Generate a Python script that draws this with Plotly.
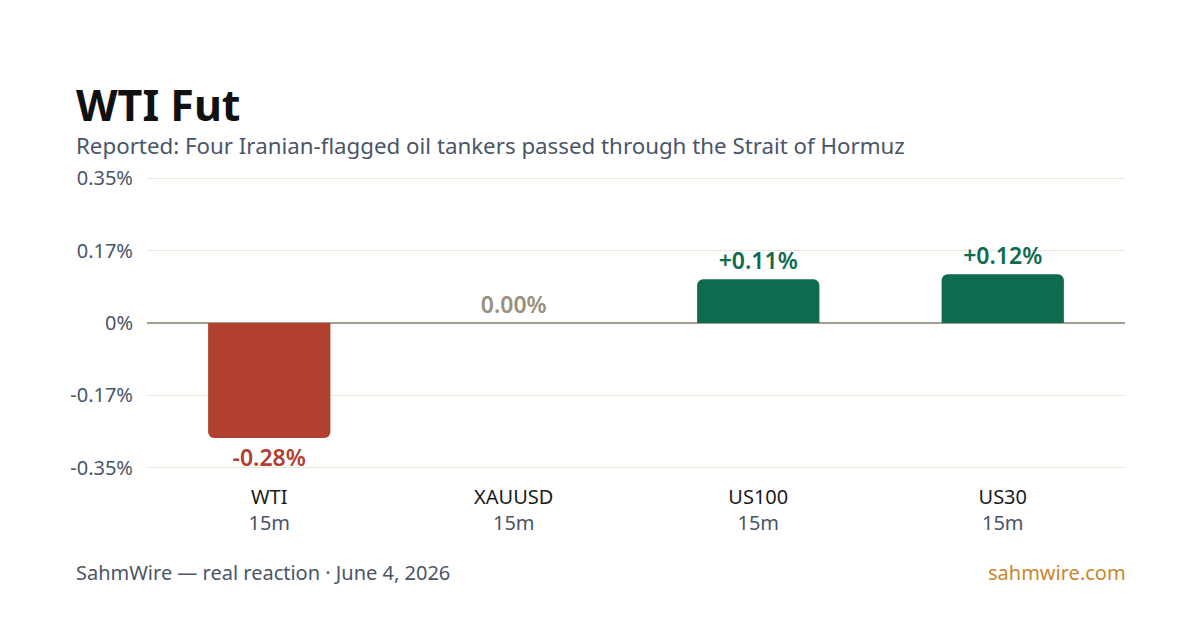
import plotly.graph_objects as go

categories = ["WTI", "XAUUSD", "US100", "US30"]
windows = ["15m", "15m", "15m", "15m"]
values = [-0.278, 0.0, 0.106, 0.118]
tick_vals = [-0.35, -0.175, 0, 0.175, 0.35]
tick_text = ["-0.35%", "-0.17%", "0%", "0.17%", "0.35%"]

RED = "#b1402f"
GREEN = "#0f6b50"
NEUTRAL = "#9a907c"
FONT = "Noto Sans"

colors = [RED if v < 0 else (GREEN if v > 0 else NEUTRAL) for v in values]
labels = [("+" if v > 0 else "") + f"{v:.2f}%" for v in values]

fig = go.Figure()
fig.add_trace(go.Bar(
    x=categories, y=values, width=0.5,
    marker=dict(color=colors, line=dict(width=0)),
    text=labels, textposition="outside", cliponaxis=False,
    textfont=dict(family=FONT, size=23, color=colors, weight=600),
))

ticks_x = [f"<span style='color:#1a1a1a'>{c}</span><br><span style='color:#4a5568'>{w}</span>"
           for c, w in zip(categories, windows)]

R = 0.353
top_px, bot_px = 177, 469
H = bot_px - top_px
fig.update_layout(
    width=1200, height=630,
    paper_bgcolor="white", plot_bgcolor="white",
    margin=dict(l=147, r=75, t=top_px, b=630 - bot_px),
    barcornerradius=6,
    showlegend=False,
    font=dict(family=FONT, color="#4a5568"),
    xaxis=dict(tickmode="array", tickvals=categories, ticktext=ticks_x,
               tickfont=dict(size=20), showgrid=False, ticks="", showline=False,
               ticklabelstandoff=14),
    yaxis=dict(range=[-R, R], tickvals=tick_vals, ticktext=tick_text,
               tickfont=dict(size=20, color="#4a5568"), gridcolor="#ede7d8", gridwidth=1,
               zeroline=True, zerolinecolor="#a39d8c", zerolinewidth=2,
               ticks="", showline=False, ticklabelstandoff=13),
)
X0 = (74 - 147) / 978
fig.add_annotation(text="<b>WTI Fut</b>", xref="paper", yref="paper",
                   x=X0, y=1 + (top_px - 104) / H, xanchor="left", yanchor="middle",
                   showarrow=False, font=dict(family=FONT, size=43, color="#111111"))
fig.add_annotation(text="Reported: Four Iranian-flagged oil tankers passed through the Strait of Hormuz",
                   xref="paper", yref="paper",
                   x=X0, y=1 + (top_px - 146) / H, xanchor="left", yanchor="middle",
                   showarrow=False, font=dict(family=FONT, size=22.3, color="#4a5568"))
fig.add_annotation(text="SahmWire — real reaction · June 4, 2026",
                   xref="paper", yref="paper",
                   x=X0, y=-(572 - bot_px) / H, xanchor="left", yanchor="middle",
                   showarrow=False, font=dict(family=FONT, size=20, color="#4a5568"))
fig.add_annotation(text="sahmwire.com",
                   xref="paper", yref="paper",
                   x=1 + 3 / 978, y=-(572 - bot_px) / H, xanchor="right", yanchor="middle",
                   showarrow=False, font=dict(family=FONT, size=20, color="#c8862e"))

fig.write_html("out.html")
